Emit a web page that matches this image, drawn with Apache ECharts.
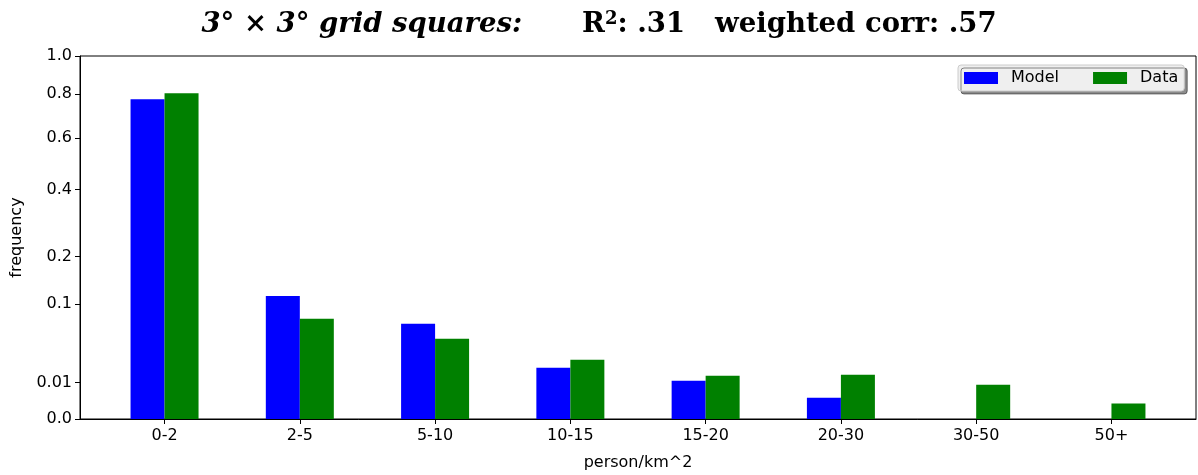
<!DOCTYPE html>
<html>
<head>
<meta charset="utf-8">
<script src="https://cdn.jsdelivr.net/npm/echarts@6/dist/echarts.min.js"></script>
<style>html,body{margin:0;padding:0;background:#fff}#c{width:1198px;height:475px}</style>
</head>
<body>
<div id="c"></div>
<script>
const categories = ['0-2','2-5','5-10','10-15','15-20','20-30','30-50','50+'];
const modelValues = [0.776, 0.115, 0.0687, 0.0199, 0.0111, 0.0034, 0, 0];
const dataValues  = [0.805, 0.0761, 0.0488, 0.0266, 0.0142, 0.0148, 0.0089, 0.0018];
const yTickValues = [0, 0.01, 0.1, 0.2, 0.4, 0.6, 0.8, 1.0];
const yTickLabels = ['0.0','0.01','0.1','0.2','0.4','0.6','0.8','1.0'];

const sq = v => Math.sqrt(v);
const chart = echarts.init(document.getElementById('c'), null, {renderer:'canvas'});
const FS = 16;
const tickFont = {fontFamily:'DejaVu Sans', fontSize:FS, color:'#000'};
const TF = 'DejaVu Serif', TS = 27.5;

chart.setOption({
  animation:false,
  backgroundColor:'#fff',
  title:{
    left:'center', top:5,
    text:'{bi|3° × 3° grid squares:}{sp1| }{b|R}{sup|2}{b|:}{r| .31}{sp2| }{b|weighted corr:}{r| .57}',
    textStyle:{
      rich:{
        bi:{fontFamily:TF, fontStyle:'italic', fontWeight:'bold', fontSize:TS, color:'#000'},
        b:{fontFamily:TF, fontWeight:'bold', fontSize:TS, color:'#000'},
        r:{fontFamily:TF, fontSize:TS, color:'#000'},
        sup:{fontFamily:TF, fontSize:18, color:'#000', padding:[0,0,12,0]},
        sp1:{fontSize:TS, width:60},
        sp2:{fontSize:TS, width:30}
      }
    }
  },
  legend:{
    left:958, top:65,
    orient:'horizontal',
    data:['Model','Data'],
    itemWidth:34, itemHeight:12, itemGap:34,
    padding:[5,6,5,6],
    backgroundColor:'#efefef',
    borderColor:'#cccccc', borderWidth:1, borderRadius:3,
    shadowColor:'rgba(0,0,0,0.45)', shadowBlur:0, shadowOffsetX:3, shadowOffsetY:3,
    icon:'rect',
    textStyle:{fontFamily:'DejaVu Sans', fontSize:FS, color:'#000', padding:[0,0,0,8]}
  },
  grid:{left:80, right:2, top:56, bottom:56, outerBoundsMode:'none', show:true, borderColor:'#000', borderWidth:1, backgroundColor:'transparent'},
  xAxis:{
    type:'value', min:-0.625, max:7.625,
    name:'person/km^2', nameLocation:'middle', nameGap:36,
    nameTextStyle:{fontFamily:'DejaVu Sans', fontSize:FS, color:'#000'},
    axisLine:{show:true, onZero:false, lineStyle:{color:'#000', width:1}},
    axisTick:{show:true, customValues:categories.map((c,i)=>i), length:5, lineStyle:{color:'#000'}},
    axisLabel:Object.assign({customValues:categories.map((c,i)=>i), margin:9, formatter:v=>categories[Math.round(v)]}, tickFont),
    splitLine:{show:false}
  },
  yAxis:{
    type:'value', min:0, max:1,
    name:'frequency', nameLocation:'middle', nameGap:55,
    nameTextStyle:{fontFamily:'DejaVu Sans', fontSize:FS, color:'#000'},
    axisLine:{show:true, onZero:false, lineStyle:{color:'#000', width:1}},
    axisTick:{show:true, customValues:yTickValues.map(sq), length:5, lineStyle:{color:'#000'}},
    axisLabel:Object.assign({customValues:yTickValues.map(sq), margin:8, formatter:v=>{
      let best=0; yTickValues.forEach((t,i)=>{ if(Math.abs(sq(t)-v)<Math.abs(sq(yTickValues[best])-v)) best=i; });
      return yTickLabels[best];
    }}, tickFont),
    splitLine:{show:false}
  },
  series:[
    {name:'Model', type:'bar', barWidth:34, barGap:'0%', itemStyle:{color:'#0000ff'},
     data:modelValues.map((v,i)=>[i, sq(v)])},
    {name:'Data', type:'bar', barWidth:34, barGap:'0%', itemStyle:{color:'#008000'},
     data:dataValues.map((v,i)=>[i, sq(v)])}
  ]
});
</script>
</body>
</html>
